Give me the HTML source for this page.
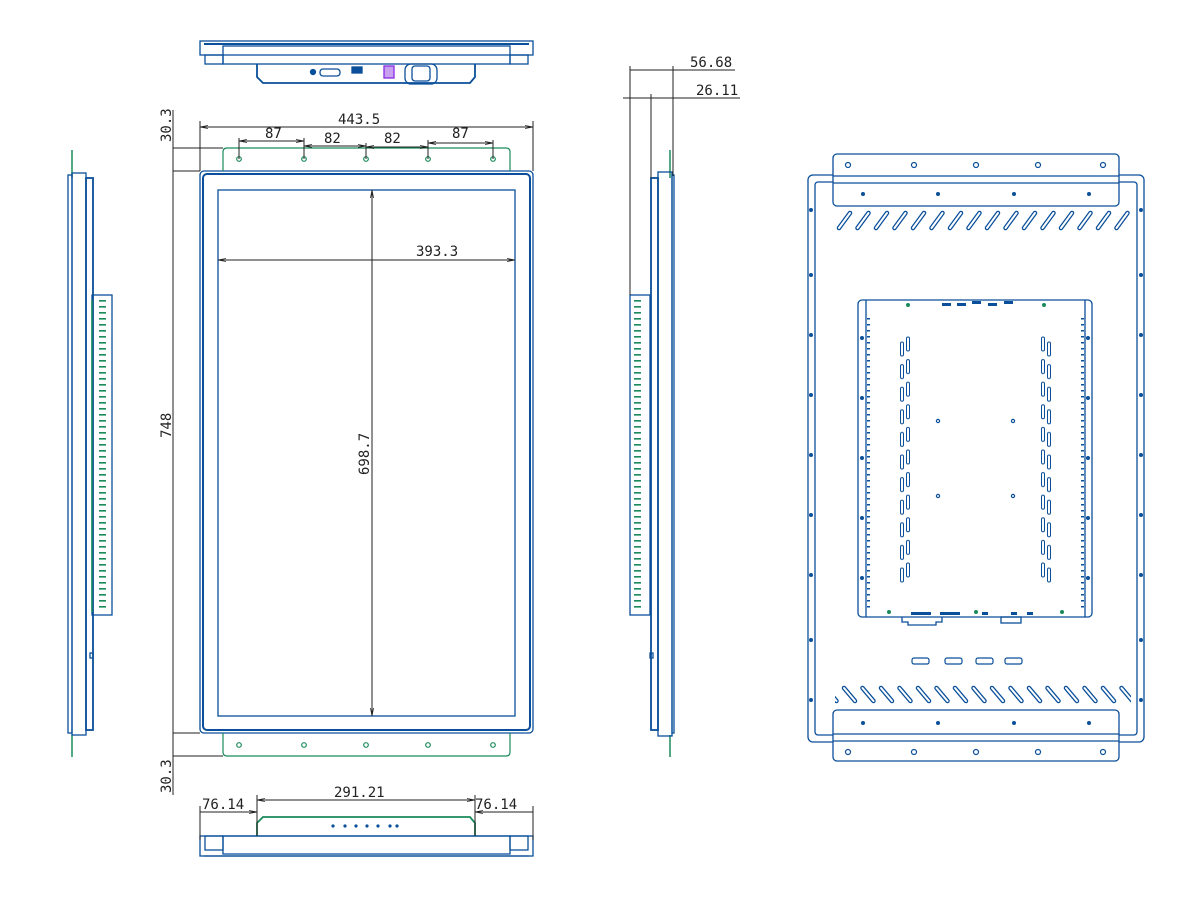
<!DOCTYPE html>
<html><head><meta charset="utf-8"><style>
html,body{margin:0;padding:0;background:#fff}
svg{display:block}
text{font-family:"DejaVu Sans Mono","Liberation Mono",monospace;font-size:14px;fill:#222}
</style></head><body>
<svg width="1194" height="898" viewBox="0 0 1194 898" xmlns="http://www.w3.org/2000/svg">
<defs>
<marker id="a" markerWidth="8" markerHeight="6" refX="8" refY="3" orient="auto-start-reverse"><path d="M0,1.5 L8,3 L0,4.5" fill="none" stroke="#222" stroke-width="0.8"/></marker>
<pattern id="pt" patternUnits="userSpaceOnUse" x="836" y="208" width="18.5" height="24">
<line x1="3" y1="20" x2="14" y2="5" stroke="#0a4f9a" stroke-width="4.5" stroke-linecap="round"/>
<line x1="3" y1="20" x2="14" y2="5" stroke="#fff" stroke-width="2" stroke-linecap="round"/>
</pattern>
<pattern id="pb" patternUnits="userSpaceOnUse" x="840" y="683" width="18.5" height="24">
<line x1="4" y1="5" x2="15" y2="18" stroke="#0a4f9a" stroke-width="4.5" stroke-linecap="round"/>
<line x1="4" y1="5" x2="15" y2="18" stroke="#fff" stroke-width="2" stroke-linecap="round"/>
</pattern>
<pattern id="pvl" patternUnits="userSpaceOnUse" x="898" y="336" width="14" height="22.6">
<rect x="2.5" y="6" width="3" height="14" rx="1.5" fill="none" stroke="#0a4f9a" stroke-width="1"/>
<rect x="8.5" y="1" width="3" height="14" rx="1.5" fill="none" stroke="#0a4f9a" stroke-width="1"/>
</pattern>
<pattern id="pvr" patternUnits="userSpaceOnUse" x="1039" y="336" width="14" height="22.6">
<rect x="2.5" y="1" width="3" height="14" rx="1.5" fill="none" stroke="#0a4f9a" stroke-width="1"/>
<rect x="8.5" y="6" width="3" height="14" rx="1.5" fill="none" stroke="#0a4f9a" stroke-width="1"/>
</pattern>
</defs>
<g fill="none" stroke="#0a4f9a" stroke-width="1.3">
<!-- top view -->
<rect x="200" y="41" width="333" height="14"/>
<line x1="204" y1="44" x2="529" y2="44" stroke-width="2"/>
<rect x="223" y="46" width="287" height="18"/>
<rect x="205" y="55" width="18" height="9"/><rect x="510" y="55" width="18" height="9"/>
<path d="M257,64 V77 L263,83 H470 L475,77 V64" stroke-width="1.8"/>
<circle cx="313" cy="72" r="2.5" fill="#0a4f9a"/><rect x="320" y="69" width="20" height="7" rx="3"/>
<rect x="352" y="67" width="10" height="6" fill="#0a4f9a"/>
<rect x="384" y="66" width="10" height="12" stroke="#8a2be2" fill="#c8a0f0"/>
<rect x="405" y="64" width="32" height="20" rx="6"/><rect x="412" y="66" width="18" height="15" rx="3"/>
<!-- front view -->
<rect x="200" y="171" width="333" height="562" rx="4"/>
<rect x="203" y="174" width="327" height="556" rx="4" stroke-width="2"/>
<rect x="218" y="190" width="297" height="526"/>
<!-- bottom view -->
<path d="M257,836 V823 L263,817 H470 L475,823 V836" stroke="#1a8a5a" stroke-width="1.8"/>
<rect x="200" y="836" width="333" height="20"/>
<rect x="205" y="836" width="18" height="14"/><rect x="510" y="836" width="18" height="14"/>
<rect x="223" y="836" width="287" height="18"/>
<line x1="204" y1="856" x2="529" y2="856"/>
<!-- left side -->
<line x1="72" y1="150" x2="72" y2="178" stroke="#1a8a5a" stroke-width="1.5"/>
<line x1="72" y1="735" x2="72" y2="757" stroke="#1a8a5a" stroke-width="1.5"/>
<rect x="68" y="175" width="4" height="558"/>
<rect x="72" y="173" width="14" height="562"/>
<rect x="86" y="178" width="7" height="552" stroke-width="1.8"/>
<rect x="92" y="295" width="20" height="320"/>
<line x1="92" y1="300" x2="92" y2="612" stroke="#1a8a5a" stroke-width="1.5"/>
<rect x="90" y="653" width="3" height="5"/>
<!-- middle side -->
<line x1="670" y1="150" x2="670" y2="178" stroke="#1a8a5a" stroke-width="1.5"/>
<line x1="670" y1="735" x2="670" y2="757" stroke="#1a8a5a" stroke-width="1.5"/>
<rect x="672" y="175" width="2" height="558"/>
<rect x="658" y="172" width="14" height="564"/>
<rect x="651" y="178" width="7" height="552" stroke-width="1.8"/>
<rect x="630" y="295" width="20" height="320"/>
<rect x="650" y="653" width="3" height="5"/>
<!-- rear view -->
<rect x="808" y="175" width="336" height="567" rx="5"/>
<rect x="815" y="182" width="322" height="553" rx="3"/>
<rect x="833" y="154" width="286" height="52" rx="4" fill="#fff"/>
<line x1="833" y1="176" x2="1119" y2="176"/><line x1="833" y1="183" x2="1119" y2="183"/>
<rect x="833" y="710" width="286" height="51" rx="4" fill="#fff"/>
<line x1="833" y1="734" x2="1119" y2="734"/><line x1="833" y1="741" x2="1119" y2="741"/>
<rect x="858" y="300" width="234" height="317" rx="4"/>
<line x1="866" y1="300" x2="866" y2="617"/><line x1="1085" y1="300" x2="1085" y2="617"/>
<path d="M902,617 v5 h6 v3 h28 v-3 h6 v-5"/>
<rect x="1001" y="617" width="20" height="6"/>
</g>
<!-- side ticks -->
<line x1="102.5" y1="300" x2="102.5" y2="610" stroke="#1a8a5a" stroke-width="7" stroke-dasharray="1.6 4.4"/>
<line x1="637.5" y1="300" x2="637.5" y2="610" stroke="#1a8a5a" stroke-width="7" stroke-dasharray="1.6 4.4"/>
<line x1="868.5" y1="318" x2="868.5" y2="612" stroke="#0a4f9a" stroke-width="3" stroke-dasharray="1.5 4.5"/>
<line x1="1082.5" y1="318" x2="1082.5" y2="612" stroke="#0a4f9a" stroke-width="3" stroke-dasharray="1.5 4.5"/>
<!-- slots -->
<rect x="835" y="208" width="296" height="24" fill="url(#pt)"/>
<rect x="835" y="683" width="296" height="24" fill="url(#pb)"/>
<rect x="898" y="336" width="14" height="249" fill="url(#pvl)"/>
<rect x="1039" y="336" width="14" height="249" fill="url(#pvr)"/>
<!-- holes -->
<g fill="none" stroke="#1a8a5a" stroke-width="1.2">
<circle cx="239" cy="159" r="2.3"/><circle cx="304" cy="159" r="2.3"/><circle cx="366" cy="159" r="2.3"/><circle cx="428" cy="159" r="2.3"/><circle cx="493" cy="159" r="2.3"/>
<circle cx="239" cy="745" r="2.3"/><circle cx="304" cy="745" r="2.3"/><circle cx="366" cy="745" r="2.3"/><circle cx="428" cy="745" r="2.3"/><circle cx="493" cy="745" r="2.3"/>
<path d="M223,171 V152 Q223,148 227,148 H506 Q510,148 510,152 V171"/>
<path d="M223,733 V752 Q223,756 227,756 H506 Q510,756 510,752 V733"/>
</g>
<g fill="#1a8a5a"><circle cx="908" cy="305" r="2"/><circle cx="1044" cy="305" r="2"/><circle cx="889" cy="612" r="2"/><circle cx="976" cy="612" r="2"/><circle cx="1062" cy="612" r="2"/></g>
<g fill="#0a4f9a">
<circle cx="333" cy="826" r="1.6"/><circle cx="345" cy="826" r="1.6"/><circle cx="356" cy="826" r="1.6"/><circle cx="367" cy="826" r="1.6"/><circle cx="378" cy="826" r="1.6"/><circle cx="390" cy="826" r="1.6"/><circle cx="397" cy="826" r="1.6"/>
<circle cx="863" cy="194" r="2"/><circle cx="938" cy="194" r="2"/><circle cx="1014" cy="194" r="2"/><circle cx="1089" cy="194" r="2"/>
<circle cx="863" cy="723" r="2"/><circle cx="938" cy="723" r="2"/><circle cx="1014" cy="723" r="2"/><circle cx="1089" cy="723" r="2"/>
<circle cx="811" cy="210" r="2"/><circle cx="811" cy="275" r="2"/><circle cx="811" cy="335" r="2"/><circle cx="811" cy="395" r="2"/><circle cx="811" cy="455" r="2"/><circle cx="811" cy="515" r="2"/><circle cx="811" cy="575" r="2"/><circle cx="811" cy="640" r="2"/><circle cx="811" cy="700" r="2"/>
<circle cx="1141" cy="210" r="2"/><circle cx="1141" cy="275" r="2"/><circle cx="1141" cy="335" r="2"/><circle cx="1141" cy="395" r="2"/><circle cx="1141" cy="455" r="2"/><circle cx="1141" cy="515" r="2"/><circle cx="1141" cy="575" r="2"/><circle cx="1141" cy="640" r="2"/><circle cx="1141" cy="700" r="2"/>
<circle cx="862" cy="338" r="2"/><circle cx="862" cy="398" r="2"/><circle cx="862" cy="458" r="2"/><circle cx="862" cy="518" r="2"/><circle cx="862" cy="578" r="2"/>
<circle cx="1088" cy="338" r="2"/><circle cx="1088" cy="398" r="2"/><circle cx="1088" cy="458" r="2"/><circle cx="1088" cy="518" r="2"/><circle cx="1088" cy="578" r="2"/>
<rect x="942" y="303" width="9" height="3"/><rect x="957" y="303" width="9" height="3"/><rect x="972" y="301" width="9" height="3"/><rect x="988" y="303" width="9" height="3"/><rect x="1004" y="301" width="9" height="3"/>
<rect x="911" y="612" width="20" height="3"/><rect x="940" y="612" width="20" height="3"/><rect x="982" y="612" width="6" height="3"/><rect x="1011" y="612" width="6" height="3"/><rect x="1027" y="612" width="6" height="3"/>
</g>
<g fill="none" stroke="#0a4f9a" stroke-width="1.2">
<circle cx="848" cy="165" r="2.5"/><circle cx="914" cy="165" r="2.5"/><circle cx="976" cy="165" r="2.5"/><circle cx="1038" cy="165" r="2.5"/><circle cx="1103" cy="165" r="2.5"/>
<circle cx="848" cy="752" r="2.5"/><circle cx="914" cy="752" r="2.5"/><circle cx="976" cy="752" r="2.5"/><circle cx="1038" cy="752" r="2.5"/><circle cx="1103" cy="752" r="2.5"/>
<circle cx="938" cy="421" r="1.6"/><circle cx="1013" cy="421" r="1.6"/><circle cx="938" cy="496" r="1.6"/><circle cx="1013" cy="496" r="1.6"/>
<rect x="912" y="658" width="17" height="6" rx="2"/><rect x="945" y="658" width="17" height="6" rx="2"/><rect x="976" y="658" width="17" height="6" rx="2"/><rect x="1005" y="658" width="17" height="6" rx="2"/>
</g>
<!-- dimension lines -->
<g stroke="#222" stroke-width="1" fill="none">
<line x1="200" y1="127" x2="533" y2="127" marker-start="url(#a)" marker-end="url(#a)"/>
<line x1="200" y1="121" x2="200" y2="171"/><line x1="533" y1="121" x2="533" y2="171"/>
<line x1="239" y1="141" x2="304" y2="141" marker-start="url(#a)" marker-end="url(#a)"/>
<line x1="304" y1="146" x2="366" y2="146" marker-start="url(#a)" marker-end="url(#a)"/>
<line x1="366" y1="147" x2="428" y2="147" marker-start="url(#a)" marker-end="url(#a)"/>
<line x1="428" y1="143" x2="493" y2="143" marker-start="url(#a)" marker-end="url(#a)"/>
<line x1="239" y1="138" x2="239" y2="159"/><line x1="304" y1="138" x2="304" y2="159"/>
<line x1="366" y1="143" x2="366" y2="159"/><line x1="428" y1="140" x2="428" y2="159"/><line x1="493" y1="140" x2="493" y2="159"/>
<line x1="372" y1="190" x2="372" y2="716" marker-start="url(#a)" marker-end="url(#a)"/>
<line x1="218" y1="260" x2="515" y2="260" marker-start="url(#a)" marker-end="url(#a)"/>
<line x1="173" y1="110" x2="173" y2="795"/>
<line x1="173" y1="148" x2="223" y2="148"/><line x1="173" y1="171" x2="200" y2="171"/>
<line x1="173" y1="733" x2="200" y2="733"/><line x1="173" y1="756" x2="223" y2="756"/>
<line x1="257" y1="800" x2="475" y2="800" marker-start="url(#a)" marker-end="url(#a)"/>
<line x1="257" y1="795" x2="257" y2="836"/><line x1="475" y1="795" x2="475" y2="836"/>
<line x1="200" y1="812" x2="257" y2="812" marker-end="url(#a)"/>
<line x1="475" y1="812" x2="533" y2="812" marker-start="url(#a)"/>
<line x1="200" y1="806" x2="200" y2="840"/><line x1="533" y1="806" x2="533" y2="840"/>
<line x1="630" y1="70" x2="735" y2="70"/>
<line x1="623" y1="98" x2="740" y2="98"/>
<line x1="630" y1="66" x2="630" y2="295"/><line x1="651" y1="94" x2="651" y2="178"/><line x1="673" y1="66" x2="673" y2="176"/>
</g>
<text x="338" y="124">443.5</text>
<text x="265" y="138">87</text><text x="324" y="143">82</text><text x="384" y="143">82</text><text x="452" y="138">87</text>
<text x="416" y="256">393.3</text>
<text transform="translate(369,475) rotate(-90)">698.7</text>
<text transform="translate(171,142) rotate(-90)">30.3</text>
<text transform="translate(171,438) rotate(-90)">748</text>
<text transform="translate(171,793) rotate(-90)">30.3</text>
<text x="334" y="797">291.21</text>
<text x="202" y="809">76.14</text><text x="475" y="809">76.14</text>
<text x="690" y="67">56.68</text><text x="696" y="95">26.11</text>
</svg>
</body></html>
